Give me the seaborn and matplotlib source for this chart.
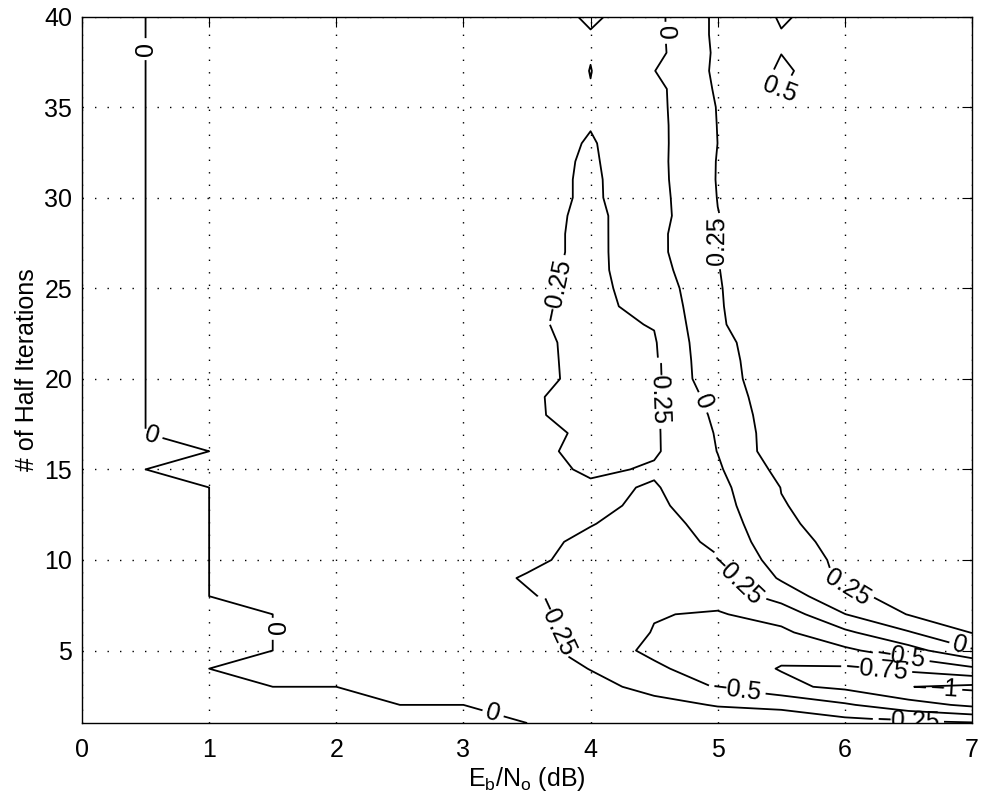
import numpy as np
import pandas as pd
import seaborn as sns
import matplotlib
matplotlib.use("Agg")
import matplotlib.pyplot as plt

# Grid of the measurement: Eb/No in 0.5 dB steps, 1..40 half iterations
ebno_db = [0.0, 0.5, 1.0, 1.5, 2.0, 2.5, 3.0, 3.5, 4.0, 4.5, 5.0, 5.5, 6.0, 6.5, 7.0]
half_iterations = list(range(1, 41))

# One column of values per Eb/No point, listed from 1 to 40 half iterations
d00 = [0.0, 0.0, 0.0, 0.0, 0.0, 0.0, 0.0, 0.0, 0.0, 0.0,
       0.0, 0.0, 0.0, 0.0, 0.0, 0.0, 0.0, 0.0, 0.0, 0.0,
       0.0, 0.0, 0.0, 0.0, 0.0, 0.0, 0.0, 0.0, 0.0, 0.0,
       0.0, 0.0, 0.0, 0.0, 0.0, 0.0, 0.0, 0.0, 0.0, 0.0]
d05 = [0.0, 0.0, 0.0, 0.0, 0.0, 0.0, 0.0, 0.0, 0.0, 0.0,
       0.0, 0.0, 0.0, 0.0, 0.0, 0.0, 0.0, 0.0, 0.0, 0.0,
       0.0, 0.0, 0.0, 0.0, 0.0, 0.0, 0.0, 0.0, 0.0, 0.0,
       0.0, 0.0, 0.0, 0.0, 0.0, 0.0, 0.0, 0.0, 0.0, 0.0]
d10 = [0.0, 0.0, 0.0, 0.0, 0.0, 0.0, 0.0, 0.0, 0.0, 0.0,
       0.0, 0.0, 0.0, 0.0, -0.04, 0.0, -0.05, -0.05, -0.04, -0.05,
       -0.06, -0.05, -0.04, -0.05, -0.05, -0.06, -0.05, -0.04, -0.05, -0.05,
       -0.06, -0.05, -0.05, -0.04, -0.05, -0.05, -0.06, -0.05, -0.05, -0.05]
d15 = [0.0, 0.0, 0.0, -0.04, 0.0, 0.0, 0.0, -0.06, -0.07, -0.08,
       -0.08, -0.09, -0.08, -0.09, -0.10, -0.09, -0.10, -0.10, -0.09, -0.10,
       -0.11, -0.10, -0.09, -0.10, -0.10, -0.11, -0.10, -0.09, -0.10, -0.10,
       -0.11, -0.10, -0.10, -0.09, -0.10, -0.10, -0.11, -0.10, -0.09, -0.10]
d20 = [0.0, 0.0, 0.0, -0.05, -0.06, -0.08, -0.09, -0.10, -0.11, -0.11,
       -0.12, -0.12, -0.11, -0.12, -0.12, -0.13, -0.12, -0.12, -0.11, -0.12,
       -0.12, -0.13, -0.12, -0.11, -0.12, -0.12, -0.13, -0.12, -0.12, -0.11,
       -0.12, -0.12, -0.12, -0.11, -0.11, -0.10, -0.10, -0.10, -0.09, -0.09]
d25 = [0.0, 0.0, -0.04, -0.07, -0.09, -0.10, -0.11, -0.12, -0.13, -0.12,
       -0.13, -0.13, -0.14, -0.13, -0.13, -0.14, -0.13, -0.14, -0.14, -0.13,
       -0.14, -0.14, -0.13, -0.14, -0.14, -0.13, -0.13, -0.14, -0.13, -0.13,
       -0.12, -0.12, -0.11, -0.11, -0.10, -0.09, -0.08, -0.08, -0.07, -0.07]
d30 = [0.0, 0.0, -0.06, -0.09, -0.10, -0.11, -0.12, -0.12, -0.15, -0.12,
       -0.13, -0.13, -0.13, -0.14, -0.13, -0.15, -0.14, -0.16, -0.16, -0.15,
       -0.15, -0.16, -0.16, -0.16, -0.15, -0.15, -0.14, -0.14, -0.14, -0.13,
       -0.13, -0.13, -0.12, -0.11, -0.10, -0.08, -0.06, -0.06, -0.05, -0.05]
d35 = [0.0, -0.05, -0.10, -0.15, -0.15, -0.15, -0.20, -0.23, -0.27, -0.20,
       -0.18, -0.17, -0.15, -0.14, -0.12, -0.18, -0.143, -0.22, -0.223, -0.174,
       -0.18, -0.195, -0.222, -0.219, -0.204, -0.18, -0.145, -0.145, -0.145, -0.147,
       -0.147, -0.155, -0.127, -0.12, -0.10, -0.08, -0.05, -0.06, -0.06, -0.05]
d40 = [-0.10, -0.15, -0.20, -0.255, -0.35, -0.35, -0.35, -0.35, -0.35, -0.33,
       -0.30, -0.24, -0.20, -0.20, -0.30, -0.32, -0.31, -0.32, -0.32, -0.32,
       -0.32, -0.31, -0.30, -0.29, -0.30, -0.31, -0.32, -0.32, -0.31, -0.29,
       -0.29, -0.28, -0.27, -0.24, -0.20, -0.243, -0.255, -0.24, -0.23, -0.30]
d45 = [-0.12, -0.20, -0.30, -0.45, -0.56, -0.51, -0.49, -0.42, -0.40, -0.40,
       -0.38, -0.35, -0.30, -0.27, -0.22, -0.28, -0.28, -0.28, -0.28, -0.28,
       -0.28, -0.27, -0.24, -0.20, -0.16, -0.105, -0.071, -0.07, -0.095, -0.09,
       -0.08, -0.075, -0.075, -0.075, -0.07, -0.07, -0.005, -0.07, -0.065, -0.065]
d50 = [-0.15, -0.26, -0.52, -0.65, -0.65, -0.60, -0.52, -0.42, -0.35, -0.27,
       -0.20, -0.15, -0.10, -0.07, -0.03, 0.005, 0.02, 0.05, 0.10, 0.185,
       0.20, 0.216, 0.234, 0.238, 0.24, 0.245, 0.252, 0.251, 0.245, 0.255,
       0.262, 0.26, 0.251, 0.255, 0.26, 0.28, 0.29, 0.29, 0.30, 0.30]
d55 = [-0.17, -0.28, -0.70, -0.76, -0.70, -0.55, -0.40, -0.15, 0.03, 0.12,
       0.18, 0.22, 0.24, 0.255, 0.32, 0.40, 0.40, 0.41, 0.41, 0.35,
       0.34, 0.33, 0.35, 0.36, 0.37, 0.38, 0.38, 0.39, 0.40, 0.41,
       0.42, 0.43, 0.44, 0.45, 0.47, 0.505, 0.53, 0.497, 0.49, 0.52]
d60 = [-0.15, -0.47, -0.80, -0.78, -0.55, -0.30, -0.005, 0.20, 0.30, 0.30,
       0.31, 0.32, 0.33, 0.34, 0.35, 0.36, 0.37, 0.37, 0.37, 0.36,
       0.36, 0.36, 0.37, 0.37, 0.38, 0.38, 0.38, 0.39, 0.39, 0.39,
       0.40, 0.40, 0.40, 0.40, 0.40, 0.40, 0.38, 0.40, 0.41, 0.41]
d65 = [-0.20, -0.65, -0.995, -0.70, -0.35, -0.02, 0.26, 0.32, 0.33, 0.34,
       0.35, 0.35, 0.36, 0.36, 0.37, 0.37, 0.38, 0.38, 0.38, 0.38,
       0.38, 0.39, 0.39, 0.39, 0.39, 0.40, 0.40, 0.40, 0.40, 0.40,
       0.41, 0.41, 0.41, 0.41, 0.41, 0.42, 0.42, 0.42, 0.42, 0.42]
d70 = [-0.23, -0.80, -1.05, -0.55, -0.03, 0.26, 0.30, 0.32, 0.33, 0.34,
       0.35, 0.35, 0.36, 0.36, 0.36, 0.37, 0.37, 0.37, 0.38, 0.38,
       0.38, 0.38, 0.39, 0.39, 0.39, 0.39, 0.40, 0.40, 0.40, 0.40,
       0.40, 0.41, 0.41, 0.41, 0.41, 0.41, 0.42, 0.42, 0.42, 0.42]

contour_levels = [-1.0, -0.75, -0.5, -0.25, 0.0, 0.25, 0.5]

# where each inline label sits (Eb/No, half iterations), per level
label_spots = {
    0.0: [(0.5, 38.2), (0.55, 16.9), (1.5, 6.2), (3.23, 1.45), (4.57, 39.1),
          (4.92, 18.8), (6.9, 5.15)],
    -0.25: [(3.74, 24.9), (4.53, 19.2), (3.68, 6.1), (5.16, 9.0), (6.5, 1.15)],
    0.25: [(5.0, 27.6), (6.02, 8.45)],
    0.5: [(5.5, 36.0)],
    -0.5: [(6.44, 4.5), (5.15, 2.65)],
    -0.75: [(6.25, 3.95)],
    -1.0: [(6.78, 2.9)],
}

grid = pd.DataFrame(
    np.column_stack([d00, d05, d10, d15, d20, d25, d30, d35,
                     d40, d45, d50, d55, d60, d65, d70]),
    index=half_iterations, columns=ebno_db)

sns.set_theme(style="white")
plt.rcParams["font.family"] = ["Liberation Sans", "DejaVu Sans"]
plt.rcParams["mathtext.fontset"] = "custom"
plt.rcParams["mathtext.rm"] = "Liberation Sans"
plt.rcParams["mathtext.it"] = "Liberation Sans:italic"
plt.rcParams["mathtext.default"] = "regular"
plt.rcParams["contour.negative_linestyle"] = "solid"

fig = plt.figure(figsize=(9.84, 8.06), dpi=100)
ax = fig.add_axes([82 / 984, 1 - 723 / 806, 890 / 984, 706.5 / 806])


def level_text(v):
    return f"{v:g}".replace("-", "\u2212")


# one contour set per level so every label lands on its own curve;
# matplotlib puts z == level on the low side, so each level is shifted by a
# hair to trace the edge of the exactly-zero plateau
for level in contour_levels:
    cs = ax.contour(grid.columns.values, grid.index.values, grid.values,
                    levels=[level - 1e-9], colors="black", linewidths=1.3,
                    negative_linestyles="solid")
    ax.clabel(cs, manual=label_spots[level], fmt=lambda _v, s=level_text(level): s,
              fontsize=18, inline=True, inline_spacing=4, colors="black")

ax.set_xlim(0, 7)
ax.set_ylim(1, 40)
ax.set_xticks(range(0, 8))
ax.set_yticks(range(5, 41, 5))
ax.grid(True, color="black", linestyle=(0, (1, 8)), linewidth=1.0)
ax.set_axisbelow(True)
ax.tick_params(direction="in", length=7, width=0.8, top=True, right=True,
               labelsize=18, colors="black")
ax.tick_params(axis="x", pad=11)
ax.tick_params(axis="y", pad=7)
for sp in ax.spines.values():
    sp.set_color("black")
    sp.set_linewidth(1.0)

ax.set_xlabel("E$_\\mathregular{b}$/N$_\\mathregular{o}$ (dB)", fontsize=18,
              labelpad=2, color="black")
ax.set_ylabel("# of Half Iterations", fontsize=18, labelpad=4, color="black")

fig.savefig("out.png", dpi=100, facecolor="white")
